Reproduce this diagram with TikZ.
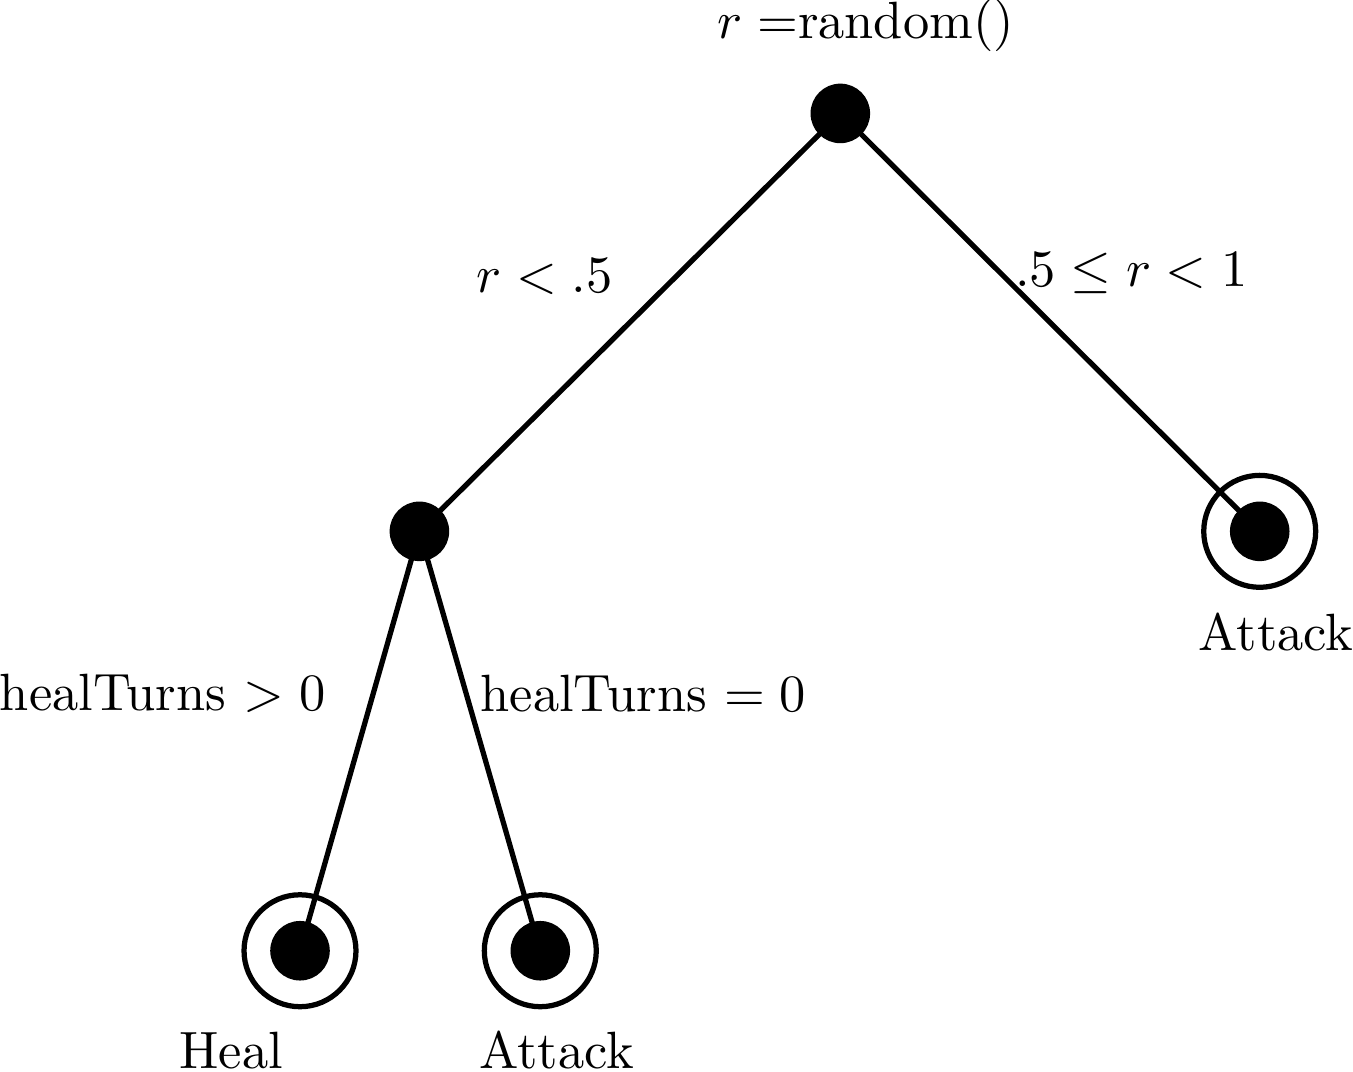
\documentclass[tikz,border=0pt]{standalone}
\usepackage{amssymb}
\tikzset{
  dot/.style={draw, minimum size=3.85mm, inner sep=0pt, outer sep=0pt, shape=circle, fill=black},
  ring/.style={line width=1pt},
  alin/.style={line width=1pt},
  lbl/.style={anchor=base, inner sep=0pt, outer sep=0pt}
}

\begin{document}
\begin{tikzpicture}
  \useasboundingbox (0,0) rectangle (9.065,-7.182);

  \node[dot] (root) at (5.63,-0.76) {};
  \node[dot] (mid) at (2.81,-3.56) {};
  \node[dot] (attackR) at (8.44,-3.56) {};
  \node[dot] (heal) at (2.01,-6.37) {};
  \node[dot] (attackL) at (3.62,-6.37) {};

  \foreach \leaf in {attackR,heal,attackL}
    \draw[ring] (\leaf) circle[radius=0.375];

  \draw[alin] (root) -- (mid);
  \draw[alin] (root) -- (attackR);
  \draw[alin] (mid) -- (heal);
  \draw[alin] (mid) -- (attackL);

  \node[lbl] (rand) at (5.80,-0.26) {$r =$random()};
  \node[lbl] (low) at (3.65,-1.96) {$r < .5$};
  \node[lbl] (high) at (7.58,-1.92) {$.5 \leq r < 1$};
  \node[lbl] (pos) at (1.09,-4.76) {healTurns $> 0$};
  \node[lbl] (zero) at (4.31,-4.77) {healTurns $= 0$};
  \node[lbl] (attackRtxt) at (8.55,-4.36) {Attack};
  \node[lbl] (healtxt) at (1.55,-7.16) {Heal};
  \node[lbl] (attackLtxt) at (3.73,-7.16) {Attack};
\end{tikzpicture}
\end{document}
